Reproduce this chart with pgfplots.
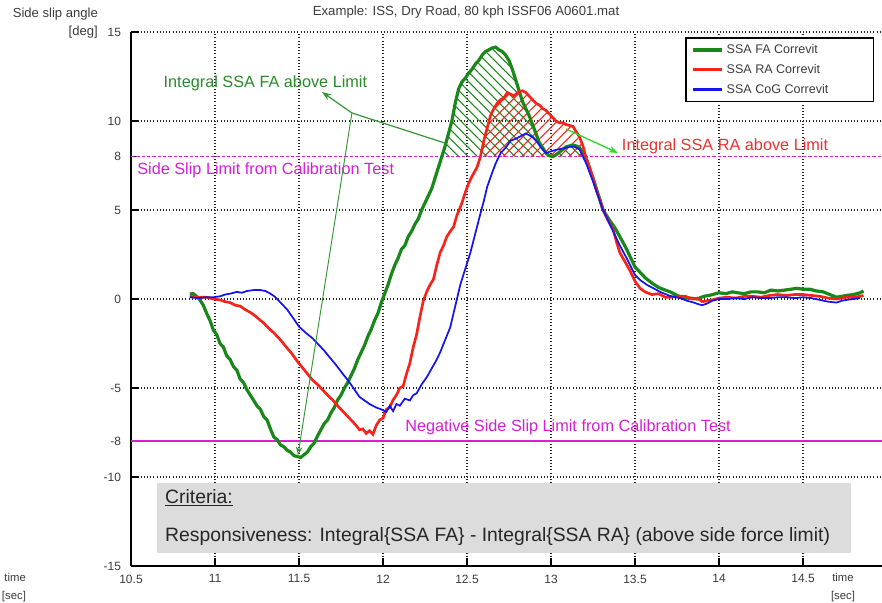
\documentclass[border=0pt]{standalone}
\usepackage{fontspec}
\setmainfont{Liberation Sans}
\usepackage{pgfplots}
\pgfplotsset{compat=1.18}
\usepackage{pgfplotstable}
\usepgfplotslibrary{fillbetween}
\usetikzlibrary{patterns.meta, arrows.meta}

\definecolor{cfa}{RGB}{25,135,25}
\definecolor{cra}{RGB}{245,35,25}
\definecolor{cco}{RGB}{20,20,240}
\definecolor{cgt}{RGB}{40,140,40}
\definecolor{crt}{RGB}{235,50,50}
\definecolor{cmag}{RGB}{215,30,215}
\definecolor{cgl}{RGB}{50,150,50}
\definecolor{clg}{RGB}{40,220,40}
\definecolor{cbox}{RGB}{220,220,220}
\definecolor{ctxt}{RGB}{60,60,60}

\pgfplotstableread{
x y
10.85 0.28
10.87 0.3
10.89 0.15
10.91 -0.05
10.93 -0.35
10.95 -0.8
10.97 -1.2
10.99 -1.74
11.01 -2.0
11.03 -2.5
11.05 -2.7
11.07 -3.2
11.09 -3.4
11.11 -3.8
11.13 -4.0
11.15 -4.5
11.17 -4.7
11.19 -5.1
11.21 -5.4
11.23 -5.7
11.25 -6.0
11.27 -6.2
11.29 -6.6
11.31 -6.8
11.33 -7.3
11.35 -7.75
11.37 -7.9
11.39 -8.2
11.41 -8.3
11.43 -8.5
11.45 -8.6
11.47 -8.8
11.49 -8.85
11.51 -8.9
11.53 -8.75
11.55 -8.6
11.57 -8.3
11.59 -8.1
11.61 -7.7
11.63 -7.35
11.65 -7.0
11.67 -6.8
11.69 -6.4
11.71 -6.1
11.73 -5.67
11.75 -5.4
11.77 -5.0
11.79 -4.7
11.81 -4.3
11.83 -3.9
11.85 -3.4
11.87 -3.0
11.89 -2.6
11.91 -2.1
11.93 -1.7
11.95 -1.2
11.97 -0.8
11.99 -0.2
12.01 0.3
12.03 0.8
12.05 1.4
12.07 1.9
12.09 2.3
12.11 2.8
12.13 3.0
12.15 3.5
12.17 3.8
12.19 4.2
12.21 4.5
12.23 5.0
12.25 5.4
12.27 5.8
12.29 6.2
12.31 6.8
12.33 7.4
12.35 8.0
12.37 8.6
12.39 9.3
12.41 10.0
12.43 11.0
12.45 11.8
12.47 12.2
12.49 12.4
12.51 12.7
12.53 12.9
12.55 13.2
12.57 13.4
12.59 13.7
12.61 13.9
12.63 14.0
12.65 14.1
12.67 14.15
12.69 14.0
12.71 13.9
12.73 13.7
12.75 13.4
12.77 12.9
12.79 12.3
12.81 11.7
12.83 11.1
12.85 10.7
12.87 10.3
12.89 9.8
12.91 9.3
12.93 8.8
12.95 8.5
12.97 8.2
12.99 8.05
13.01 8.0
13.03 8.1
13.05 8.25
13.07 8.4
13.09 8.55
13.11 8.6
13.13 8.65
13.15 8.6
13.17 8.5
13.19 8.2
13.21 7.9
13.23 7.3
13.25 6.8
13.27 6.2
13.29 5.6
13.31 5.0
13.33 4.7
13.35 4.4
13.38 4.0
13.41 3.5
13.45 2.8
13.48 2.2
13.5 1.8
13.53 1.5
13.56 1.2
13.6 0.9
13.64 0.65
13.68 0.5
13.71 0.4
13.75 0.2
13.79 0.06
13.83 0.05
13.87 0.0
13.91 0.15
13.95 0.22
14.0 0.35
14.04 0.3
14.08 0.4
14.11 0.35
14.15 0.3
14.19 0.4
14.23 0.4
14.27 0.35
14.31 0.5
14.35 0.45
14.39 0.5
14.43 0.55
14.46 0.6
14.5 0.55
14.54 0.55
14.58 0.45
14.62 0.4
14.66 0.25
14.7 0.1
14.73 0.15
14.76 0.2
14.8 0.25
14.84 0.35
14.86 0.45
}\FA

\pgfplotstableread{
x y
10.85 0.15
10.9 0.1
10.95 0.1
10.99 0.0
11.03 -0.05
11.06 -0.15
11.09 -0.2
11.12 -0.35
11.15 -0.4
11.18 -0.6
11.21 -0.75
11.24 -0.95
11.27 -1.2
11.29 -1.35
11.32 -1.65
11.35 -1.9
11.39 -2.3
11.42 -2.65
11.46 -3.1
11.49 -3.5
11.52 -3.85
11.55 -4.2
11.58 -4.55
11.61 -4.8
11.64 -5.1
11.67 -5.4
11.7 -5.67
11.73 -6.0
11.76 -6.3
11.79 -6.6
11.82 -6.9
11.84 -7.1
11.86 -7.35
11.88 -7.3
11.9 -7.55
11.92 -7.4
11.94 -7.6
11.96 -7.1
11.98 -6.8
12.0 -6.7
12.02 -6.2
12.04 -6.1
12.06 -5.67
12.08 -5.4
12.1 -5.0
12.12 -4.9
12.14 -4.2
12.16 -3.6
12.18 -2.7
12.2 -2.0
12.22 -1.0
12.24 -0.1
12.26 0.4
12.28 0.8
12.3 1.1
12.32 1.9
12.34 2.6
12.36 3.0
12.38 3.5
12.4 3.8
12.42 4.05
12.44 4.7
12.47 5.4
12.49 6.0
12.51 6.5
12.53 6.9
12.56 7.4
12.58 8.0
12.6 8.9
12.62 9.6
12.64 10.3
12.66 10.7
12.68 11.0
12.7 11.2
12.72 11.3
12.74 11.6
12.76 11.5
12.78 11.4
12.8 11.6
12.83 11.7
12.85 11.6
12.87 11.4
12.89 11.2
12.91 11.0
12.93 10.9
12.95 10.7
12.97 10.6
12.99 10.4
13.01 10.2
13.03 10.0
13.05 9.9
13.07 9.9
13.09 9.8
13.11 9.75
13.13 9.7
13.15 9.4
13.17 9.1
13.19 8.6
13.21 7.9
13.23 7.4
13.25 6.8
13.27 6.1
13.29 5.6
13.31 5.0
13.34 4.4
13.37 3.9
13.39 3.2
13.41 2.6
13.44 2.1
13.47 1.6
13.5 1.0
13.53 0.6
13.56 0.4
13.6 0.25
13.64 0.3
13.68 0.1
13.71 0.1
13.75 0.15
13.8 0.15
13.84 0.0
13.87 0.05
13.9 -0.15
13.93 -0.1
13.96 -0.05
14.0 0.05
14.05 0.1
14.1 0.05
14.15 0.15
14.2 0.15
14.25 0.1
14.3 0.2
14.35 0.25
14.4 0.2
14.45 0.25
14.5 0.25
14.55 0.2
14.6 0.15
14.65 0.05
14.7 0.0
14.73 0.05
14.76 0.1
14.8 0.1
14.84 0.15
14.86 0.2
}\RA

\pgfplotstableread{
x y
10.85 0.1
10.9 0.05
10.95 0.1
10.99 0.1
11.03 0.15
11.06 0.25
11.09 0.3
11.13 0.4
11.16 0.35
11.19 0.45
11.23 0.5
11.27 0.5
11.3 0.45
11.33 0.3
11.36 0.1
11.39 -0.2
11.43 -0.6
11.46 -1.0
11.5 -1.55
11.54 -1.9
11.58 -2.2
11.61 -2.5
11.65 -2.9
11.68 -3.25
11.72 -3.7
11.76 -4.2
11.79 -4.55
11.82 -4.95
11.86 -5.5
11.89 -5.7
11.92 -5.9
11.96 -6.1
11.99 -6.2
12.02 -6.35
12.04 -6.0
12.06 -6.3
12.08 -5.9
12.1 -6.0
12.13 -5.6
12.16 -5.7
12.18 -5.4
12.2 -5.3
12.23 -4.8
12.26 -4.4
12.29 -3.9
12.32 -3.4
12.34 -3.0
12.37 -2.3
12.4 -1.6
12.42 -0.8
12.44 0.0
12.46 0.8
12.49 1.7
12.52 2.6
12.55 3.7
12.58 4.8
12.6 5.5
12.62 6.3
12.65 7.1
12.67 7.6
12.7 8.2
12.73 8.5
12.76 8.9
12.79 9.0
12.83 9.2
12.85 9.3
12.87 9.2
12.89 9.1
12.91 8.9
12.93 8.65
12.95 8.4
12.97 8.2
13.0 8.3
13.02 8.35
13.04 8.4
13.07 8.45
13.11 8.55
13.14 8.55
13.17 8.4
13.19 8.0
13.21 7.6
13.23 7.1
13.25 6.6
13.28 5.8
13.31 5.0
13.34 4.4
13.37 3.8
13.41 3.0
13.45 2.3
13.5 1.35
13.53 1.07
13.57 0.8
13.61 0.6
13.65 0.4
13.7 0.2
13.74 0.1
13.77 0.05
13.81 -0.1
13.85 -0.2
13.88 -0.3
13.9 -0.35
13.93 -0.25
13.96 -0.1
14.0 0.0
14.05 0.0
14.1 0.05
14.15 0.0
14.2 0.1
14.25 0.05
14.3 0.05
14.35 0.1
14.4 0.1
14.45 0.05
14.5 0.1
14.55 0.05
14.6 -0.05
14.65 -0.15
14.7 -0.2
14.73 -0.1
14.76 -0.05
14.8 0.0
14.84 0.05
}\CoG

\begin{document}
\begin{tikzpicture}
\begin{axis}[
  at={(98.25pt,27.75pt)}, anchor=south west,
  scale only axis, width=630pt, height=400.5pt,
  xmin=10.5, xmax=15.5, ymin=-15, ymax=15,
  axis lines=left, axis line style={-, line width=1pt, black},
  xtick={10.5,11,...,15}, ytick={-15,-10,-5,0,5,10,15},
  extra y ticks={-8,8}, extra y tick style={grid=none},
  grid=major, major grid style={dotted, line width=0.8pt, black!85},
  tick align=inside, major tick length=6pt, tick style={black, line width=0.8pt},
  ticklabel style={font=\fontsize{9}{10}\selectfont, text=ctxt},
  xticklabels={10.5,11,11.5,12,12.5,13,13.5,14,14.5,{}},
  xticklabel style={yshift=-3pt},
  yticklabel style={xshift=-4pt},
  /pgf/number format/assume math mode=true,
  clip mode=individual,
  set layers,
  legend style={at={(0.66,0.9907)}, anchor=north west, draw=black, line width=1.2pt,
    font=\fontsize{9.4}{11}\selectfont, text=ctxt, inner xsep=4pt, inner ysep=3pt,
    row sep=2.5pt},
  legend cell align=left,
  legend image code/.code={\draw[#1] (2pt,0pt) -- (24pt,0pt);},
]
\addplot[forget plot, draw=none, name path=lim] coordinates {(10.5,8) (15.5,8)};
\addplot[forget plot, draw=none, name path=FAp] table {\FA};
\addplot[forget plot, draw=none, name path=RAp] table {\RA};
\addplot[forget plot, pattern={Lines[angle=-45,distance=5pt,line width=0.8pt]}, pattern color=cfa]
  fill between[of=FAp and lim, soft clip={domain=12.35:13.21}];
\addplot[forget plot, pattern={Lines[angle=45,distance=5pt,line width=0.8pt]}, pattern color=cra]
  fill between[of=RAp and lim, soft clip={domain=12.58:13.21}];
\addplot[forget plot, cmag, line width=1.3pt, dash pattern=on 2.5pt off 1.5pt] coordinates {(10.5,8) (15.5,8)};
\addplot[forget plot, draw=cmag, line width=1.5pt] coordinates {(10.5,-8) (15.5,-8)};

\addplot[cfa, line width=2.4pt] table {\FA};
\addlegendentry{\makebox[104pt][l]{SSA FA Correvit}}
\addplot[cra, line width=2pt] table {\RA};
\addlegendentry{SSA RA Correvit}
\addplot[forget plot, draw=cco, line width=1.3pt] table {\CoG};
\addlegendimage{draw=cco, line width=1.6pt}
\addlegendentry{SSA CoG Correvit}

\fill[cbox] (axis cs:10.655,-10.34) rectangle (axis cs:14.786,-14.27);
\node[anchor=west, inner sep=0pt, font=\fontsize{14.5}{16}\selectfont, text=black!85] at (axis cs:10.702,-11.18) {\underline{Criteria:}};
\node[anchor=west, inner sep=0pt, font=\fontsize{14.5}{16}\selectfont, text=black!85] at (axis cs:10.702,-13.37) {Responsiveness: Integral\{SSA FA\} - Integral\{SSA RA\} (above side force limit)};

\node[inner sep=0pt, text=cgt, font=\fontsize{12.2}{14}\selectfont] at (axis cs:11.30,12.13) {Integral SSA FA above Limit};
\node[inner sep=0pt, text=crt, font=\fontsize{12.2}{14}\selectfont] at (axis cs:14.036,8.6) {Integral SSA RA above Limit};
\node[anchor=west, inner sep=0pt, text=cmag, font=\fontsize{12.2}{14}\selectfont] at (axis cs:10.536,7.25) {Side Slip Limit from Calibration Test};
\node[anchor=west, inner sep=0pt, text=cmag, font=\fontsize{12.2}{14}\selectfont] at (axis cs:12.131,-7.19) {Negative Side Slip Limit from Calibration Test};

\draw[cgl, line width=0.9pt, -{Stealth[length=7pt,width=5pt]}] (axis cs:11.815,10.45) -- (axis cs:11.637,11.63);
\draw[cgl, line width=0.9pt] (axis cs:11.815,10.45) -- (axis cs:12.369,8.76);
\draw[cgl, line width=0.7pt, -{Stealth[open,length=6pt,width=5pt]}] (axis cs:11.815,10.45) -- (axis cs:11.494,-8.76);
\draw[clg, line width=1pt, -{Stealth[length=7pt,width=5pt]}] (axis cs:13.09,9.55) -- (axis cs:13.399,8.2);

\node[anchor=east, inner sep=0pt, text=ctxt, font=\fontsize{9.8}{11}\selectfont] at (axis cs:10.304,16.01) {Side slip angle};
\node[anchor=east, inner sep=0pt, text=ctxt, font=\fontsize{9.8}{11}\selectfont] at (axis cs:10.304,15.0) {[deg]};
\node[inner sep=0pt, text=ctxt, font=\fontsize{9.9}{11}\selectfont] at (axis cs:12.494,16.12) {Example: ISS, Dry Road, 80 kph ISSF06 A0601.mat};
\node[inner sep=0pt, text=ctxt, font=\fontsize{8.5}{10}\selectfont] at (axis cs:14.738,-15.62) {time};
\node[inner sep=0pt, text=ctxt, font=\fontsize{8.5}{10}\selectfont] at (axis cs:14.738,-16.69) {[sec]};
\node[anchor=east, inner sep=0pt, text=ctxt, font=\fontsize{8.5}{10}\selectfont] at (axis cs:9.876,-15.62) {time};
\node[anchor=east, inner sep=0pt, text=ctxt, font=\fontsize{8.5}{10}\selectfont] at (axis cs:9.876,-16.69) {[sec]};
\end{axis}
\pgfresetboundingbox
\path[use as bounding box] (0,0) rectangle (661.5pt,452.25pt);
\end{tikzpicture}
\end{document}
